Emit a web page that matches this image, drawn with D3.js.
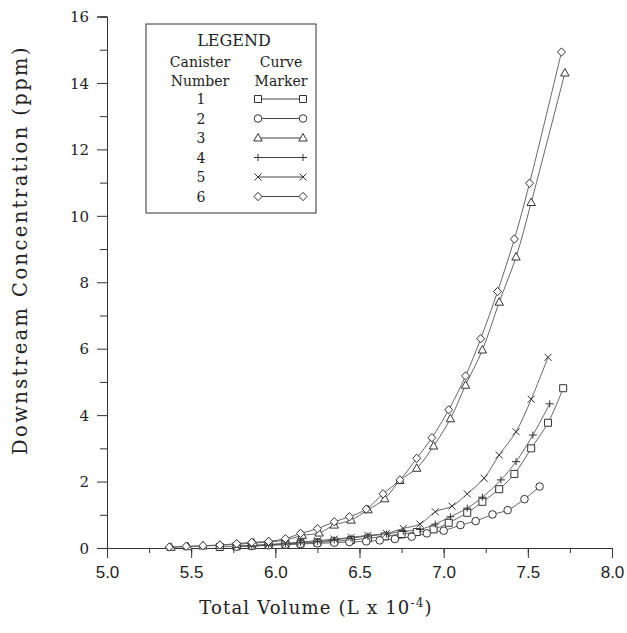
<!DOCTYPE html>
<html>
<head>
<meta charset="utf-8">
<script src="https://cdn.jsdelivr.net/npm/d3@7"></script>
<style>
  body { margin: 0; background: #fff; }
  svg text { fill: #222; }
</style>
</head>
<body>
<div id="chart"></div>
<script>
// data (x = total volume in L x 10^-4, y = ppm)
var can1x = [5.67, 5.77, 5.86, 5.96, 6.06, 6.15, 6.25, 6.35, 6.45, 6.55, 6.65, 6.75, 6.84, 6.94, 7.03, 7.14, 7.23, 7.33, 7.42, 7.52, 7.62, 7.71];
var can1y = [0.03, 0.05, 0.07, 0.09, 0.12, 0.14, 0.17, 0.20, 0.24, 0.29, 0.35, 0.42, 0.48, 0.56, 0.76, 1.06, 1.39, 1.77, 2.23, 3.00, 3.77, 4.81];

var can2x = [5.77, 5.86, 5.96, 6.06, 6.15, 6.25, 6.35, 6.44, 6.54, 6.62, 6.71, 6.81, 6.90, 7.00, 7.10, 7.19, 7.29, 7.38, 7.48, 7.57];
var can2y = [0.04, 0.06, 0.08, 0.10, 0.12, 0.14, 0.16, 0.18, 0.20, 0.23, 0.27, 0.34, 0.44, 0.52, 0.69, 0.81, 1.01, 1.14, 1.47, 1.85];

var can3x = [5.38, 5.48, 5.57, 5.67, 5.77, 5.87, 5.96, 6.06, 6.16, 6.26, 6.35, 6.45, 6.55, 6.65, 6.74, 6.84, 6.94, 7.04, 7.13, 7.23, 7.33, 7.43, 7.52, 7.72];
var can3y = [0.02, 0.04, 0.06, 0.08, 0.11, 0.15, 0.18, 0.24, 0.38, 0.45, 0.69, 0.84, 1.15, 1.48, 2.03, 2.40, 3.07, 3.89, 4.90, 5.96, 7.40, 8.76, 10.40, 14.30];

var can4x = [5.86, 5.96, 6.06, 6.15, 6.25, 6.35, 6.45, 6.55, 6.66, 6.76, 6.86, 6.95, 7.04, 7.14, 7.23, 7.34, 7.43, 7.53, 7.63];
var can4y = [0.06, 0.09, 0.12, 0.16, 0.19, 0.24, 0.30, 0.36, 0.42, 0.50, 0.56, 0.72, 0.94, 1.20, 1.53, 2.05, 2.60, 3.40, 4.34];

var can5x = [5.77, 5.86, 5.96, 6.06, 6.15, 6.25, 6.35, 6.45, 6.55, 6.66, 6.76, 6.86, 6.95, 7.05, 7.14, 7.24, 7.33, 7.43, 7.52, 7.62];
var can5y = [0.06, 0.08, 0.11, 0.14, 0.18, 0.22, 0.27, 0.32, 0.38, 0.44, 0.59, 0.72, 1.09, 1.26, 1.63, 2.10, 2.80, 3.50, 4.48, 5.74];

var can6x = [5.37, 5.47, 5.57, 5.67, 5.77, 5.86, 5.96, 6.06, 6.15, 6.25, 6.35, 6.44, 6.54, 6.64, 6.74, 6.84, 6.93, 7.03, 7.13, 7.22, 7.32, 7.42, 7.51, 7.70];
var can6y = [0.03, 0.05, 0.07, 0.09, 0.13, 0.17, 0.20, 0.28, 0.44, 0.58, 0.79, 0.94, 1.17, 1.63, 2.05, 2.70, 3.32, 4.16, 5.18, 6.30, 7.72, 9.30, 10.98, 14.93];

var canisters = ["1", "2", "3", "4", "5", "6"];
var markers = ["square", "circle", "triangle", "plus", "cross", "diamond"];
var xTicksMajor = [5.0, 5.5, 6.0, 6.5, 7.0, 7.5, 8.0];
var yTicksMajor = [0, 2, 4, 6, 8, 10, 12, 14, 16];

var series = [
  {x: can1x, y: can1y}, {x: can2x, y: can2y}, {x: can3x, y: can3y},
  {x: can4x, y: can4y}, {x: can5x, y: can5y}, {x: can6x, y: can6y}
].map(function(s, i) {
  return {name: canisters[i], marker: markers[i],
          pts: s.x.map(function(v, j) { return [v, s.y[j]]; })};
});

var W = 627, H = 633;
var svg = d3.select("#chart").append("svg")
  .attr("width", W).attr("height", H);

var x = d3.scaleLinear().domain([5, 8]).range([107, 612]);
var y = d3.scaleLinear().domain([0, 16]).range([548, 16.5]);

var ink = "#333";

// marker path drawing
function markerPath(type) {
  switch (type) {
    case "square": return "M-3.5,-3.5h7v7h-7z";
    case "circle": return "M-3.8,0a3.8,3.8 0 1,0 7.6,0a3.8,3.8 0 1,0 -7.6,0";
    case "triangle": return "M0,-4.5L4.2,3L-4.2,3z";
    case "plus": return "M-4,0H4M0,-3.5V3.5";
    case "cross": return "M-3.5,-3.5L3.5,3.5M-3.5,3.5L3.5,-3.5";
    case "diamond": return "M0,-4.2L4,0L0,4.2L-4,0z";
  }
}

// axes
var xMinor = d3.axisBottom(x).tickValues(d3.range(5, 8.01, 0.25)).tickSize(5).tickFormat("");
var xMajor = d3.axisBottom(x).tickValues(xTicksMajor).tickSize(10).tickFormat(d3.format(".1f")).tickPadding(8);
var yMinor = d3.axisLeft(y).tickValues(d3.range(1, 16, 2)).tickSize(7).tickFormat("");
var yMajor = d3.axisLeft(y).tickValues(yTicksMajor).tickSize(10).tickPadding(8);

svg.append("g").attr("transform", "translate(0,548)").call(xMinor);
var gx = svg.append("g").attr("transform", "translate(0,548)").call(xMajor);
svg.append("g").attr("transform", "translate(107,0)").call(yMinor);
var gy = svg.append("g").attr("transform", "translate(107,0)").call(yMajor);

svg.selectAll(".domain").attr("stroke", ink);
svg.selectAll(".tick line").attr("stroke", ink);
gx.selectAll("text").attr("font-family", "'Liberation Sans', Arial, sans-serif")
  .attr("font-size", 17).attr("fill", "#222");
gy.selectAll("text").attr("font-family", "'DejaVu Serif', serif")
  .attr("font-size", 15).attr("fill", "#222").attr("dy", "0.35em");

// axis titles
svg.append("text")
  .attr("x", 316).attr("y", 614)
  .attr("text-anchor", "middle")
  .attr("font-family", "'DejaVu Serif', serif")
  .attr("font-size", 18)
  .attr("letter-spacing", 1.2)
  .html("Total Volume (L x 10<tspan dy='-7' font-size='12'>-4</tspan><tspan dy='7'>)</tspan>");

svg.append("text")
  .attr("transform", "translate(27,250) rotate(-90)")
  .attr("text-anchor", "middle")
  .attr("font-family", "'DejaVu Serif', serif")
  .attr("font-size", 19.5)
  .attr("letter-spacing", 2.4)
  .text("Downstream Concentration (ppm)");

// curves
var line = d3.line()
  .x(function(d) { return x(d[0]); })
  .y(function(d) { return y(d[1]); })
  .curve(d3.curveCatmullRom.alpha(0.5));

svg.append("g").selectAll("path")
  .data(series)
  .join("path")
  .attr("d", function(d) { return line(d.pts); })
  .attr("fill", "none")
  .attr("stroke", "#555")
  .attr("stroke-width", 0.9);

series.forEach(function(s) {
  svg.append("g").selectAll("path")
    .data(s.pts)
    .join("path")
    .attr("transform", function(d) { return "translate(" + x(d[0]) + "," + y(d[1]) + ")"; })
    .attr("d", markerPath(s.marker))
    .attr("fill", (s.marker == "plus" || s.marker == "cross") ? "none" : "#fff")
    .attr("stroke", ink)
    .attr("stroke-width", 1);
});

// legend
var lg = svg.append("g").attr("font-family", "'DejaVu Serif', serif").attr("font-size", 14);
lg.append("rect")
  .attr("x", 146).attr("y", 24).attr("width", 170).attr("height", 189)
  .attr("fill", "#fff").attr("stroke", ink).attr("stroke-width", 1);
lg.append("text").attr("x", 234).attr("y", 46).attr("text-anchor", "middle")
  .attr("font-size", 16).text("LEGEND");
lg.append("text").attr("x", 200).attr("y", 67).attr("text-anchor", "middle").text("Canister");
lg.append("text").attr("x", 200).attr("y", 86).attr("text-anchor", "middle").text("Number");
lg.append("text").attr("x", 281).attr("y", 67).attr("text-anchor", "middle").text("Curve");
lg.append("text").attr("x", 281).attr("y", 86).attr("text-anchor", "middle").text("Marker");

var rows = lg.selectAll(".row").data(series).join("g")
  .attr("class", "row")
  .attr("transform", function(d, i) { return "translate(0," + (104 + i * 19.5) + ")"; });
rows.append("text").attr("x", 201).attr("y", 0).attr("text-anchor", "middle")
  .text(function(d) { return d.name; });
rows.append("line").attr("x1", 258).attr("x2", 303).attr("y1", -5).attr("y2", -5)
  .attr("stroke", "#444");
[258, 303].forEach(function(mx) {
  rows.append("path")
    .attr("transform", "translate(" + mx + ",-5)")
    .attr("d", function(d) { return markerPath(d.marker); })
    .attr("fill", function(d) { return (d.marker == "plus" || d.marker == "cross") ? "none" : "#fff"; })
    .attr("stroke", ink);
});
</script>
</body>
</html>
